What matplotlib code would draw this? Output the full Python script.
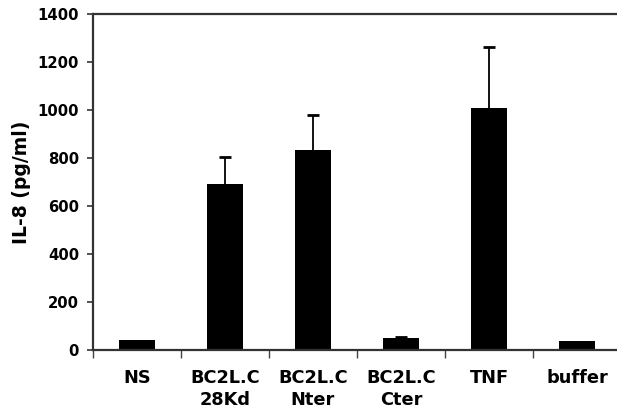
import numpy as np
import matplotlib
matplotlib.use("Agg")
import matplotlib.pyplot as plt

categories = ["NS", "BC2L.C\n28Kd", "BC2L.C\nNter", "BC2L.C\nCter", "TNF", "buffer"]
il8_mean = [40, 690, 832, 48, 1010, 37]
il8_err = [0, 115, 148, 5, 252, 0]

yticks = [0, 200, 400, 600, 800, 1000, 1200, 1400]

plt.rcParams['font.family'] = ['DejaVu Sans']
plt.rcParams['font.weight'] = 'bold'

fig = plt.figure(figsize=(6.17, 4.11), dpi=100)
ax = fig.add_axes([93 / 617, 1 - 350 / 411, 528 / 617, 336 / 411])

x = np.arange(len(categories))
ax.bar(x, il8_mean, width=0.42, color='black', zorder=2)

# only the upper half of the error bars, and only where there is an error
err = np.array(il8_err, dtype=float)
has_err = err > 0
mean = np.array(il8_mean, dtype=float)
eb = ax.errorbar(x[has_err], mean[has_err],
                 yerr=[np.zeros(has_err.sum()), err[has_err]], fmt='none',
                 ecolor='black', elinewidth=1.3, capsize=4, capthick=2, zorder=3)
eb[1][0].set_visible(False)

ax.set_xlim(-0.5, len(categories) - 0.5)
ax.set_ylim(0, 1400)
ax.set_yticks(yticks)
ax.set_yticklabels([str(v) for v in yticks], fontsize=10.7, fontweight='bold')

ax.set_xticks(x)
ax.set_xticklabels(categories, fontsize=12.8, fontweight='bold', linespacing=1.25)
ax.set_xticks(np.arange(len(categories) + 1) - 0.5, minor=True)
ax.tick_params(axis='x', which='major', length=0, pad=14)
ax.tick_params(axis='x', which='minor', length=6, width=1, color='#444444')
ax.tick_params(axis='y', length=4, width=1.3, color='#444444', pad=6)

for side in ['left', 'bottom', 'top', 'right']:
    ax.spines[side].set_color('#333333')
    ax.spines[side].set_linewidth(1.6)

ax.set_ylabel('IL-8 (pg/ml)', fontsize=13.5, fontweight='bold', labelpad=5)

fig.savefig('out.png', dpi=100)
